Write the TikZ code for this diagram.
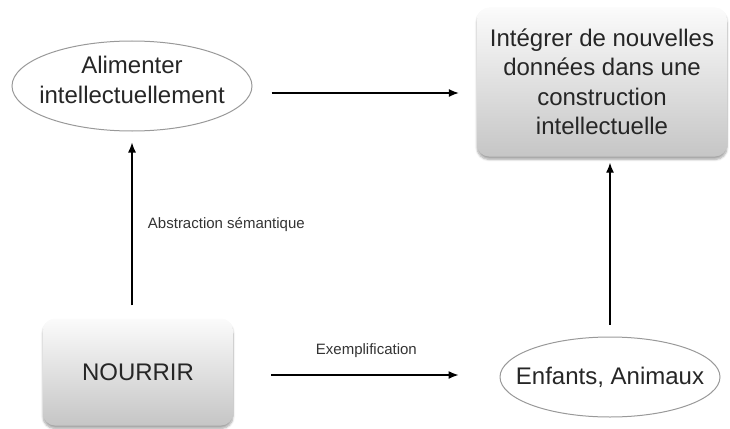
\documentclass[tikz,border=0pt]{standalone}
\usepackage{fontspec}
\setmainfont{Liberation Sans}
\usetikzlibrary{arrows.meta,shapes.geometric,shadows.blur}

\begin{document}
\begin{tikzpicture}[x=1pt,y=-1pt,
  boite/.style={rounded corners=12pt, top color=gray!3, bottom color=gray!45,
    blur shadow={shadow xshift=0pt,shadow yshift=-3pt,shadow blur steps=6,shadow opacity=35},
    align=center, inner sep=0pt, text=black!85, font=\fontsize{24}{29.5}\selectfont},
  bulle/.style={ellipse, draw=gray!80, line width=1pt, inner sep=0pt},
  texte/.style={align=center, text=black!85, font=\fontsize{24}{29.5}\selectfont},
  fleche/.style={-{Latex[length=10pt,width=8pt]}, line width=1.3pt},
  etiq/.style={text=black!80, font=\fontsize{15}{18}\selectfont}]

\useasboundingbox (0,0) rectangle (730,428);

% Nodes
\node [bulle, minimum width=240pt, minimum height=90pt] (aliment) at (132,86) {};
\node [texte, yshift=6pt] at (aliment) {Alimenter\\intellectuellement};
\node [boite, minimum width=250pt, minimum height=149pt] (integrer) at (602,82) {Intégrer de nouvelles\\données dans une\\construction\\intellectuelle};
\node [boite, minimum width=190pt, minimum height=107pt] (nourrir) at (138,372) {NOURRIR};
\node [bulle, minimum width=220pt, minimum height=80pt] (enfants) at (610,377) {};
\node [texte] at (enfants) {Enfants, Animaux};

% Arrows
\draw [fleche, shorten <=19pt, shorten >=18pt] ([yshift=-7pt]aliment.east) -- ([yshift=-7pt]aliment.east -| integrer.west);
\draw [fleche, shorten <=13pt, shorten >=11pt] (nourrir.north -| aliment.south) -- (aliment.south)
  node [etiq, midway, right, xshift=12pt] {Abstraction sémantique};
\draw [fleche, shorten <=38pt, shorten >=41pt] ([yshift=-3pt]nourrir.east) -- ([yshift=-3pt]nourrir.east -| enfants.west)
  node [etiq, midway, yshift=24pt] {Exemplification};
\draw [fleche, shorten <=12pt, shorten >=6pt] (enfants.north) -- (enfants.north |- integrer.south);

\end{tikzpicture}
\end{document}
